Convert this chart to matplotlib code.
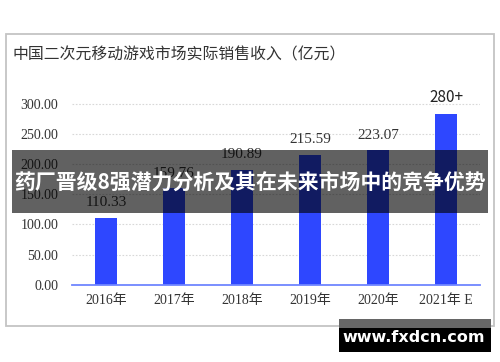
import numpy as np
import matplotlib
matplotlib.use('Agg')
import matplotlib.pyplot as plt
from matplotlib.patches import Rectangle

rcParams = matplotlib.rcParams
rcParams['font.family'] = ['Noto Sans CJK SC', 'DejaVu Sans']

#%% Data
years = ['2016年', '2017年', '2018年', '2019年', '2020年', '2021年 E']
revenue = [110.33, 159.76, 190.89, 215.59, 223.07, 284.0]
bar_labels = ['110.33', '159.76', '190.89', '215.59', '223.07', '280+']
yticks = [0, 50, 100, 150, 200, 250, 300]

W, H = 500, 362
def fx(px): return px / W
def fy(py): return 1 - py / H

fig = plt.figure(figsize=(W / 100, H / 100), dpi=100)

# outer frame of the chart picture
fig.patches.append(Rectangle((fx(6), fy(326)), fx(494) - fx(6), fy(34) - fy(326),
                             transform=fig.transFigure, fill=False,
                             edgecolor='#c4c4c4', lw=1.3, zorder=0))

fig.text(fx(12), fy(55), '中国二次元移动游戏市场实际销售收入（亿元）',
         fontsize=11.4, color='#333333', va='center', ha='left')

# axes: 0 at y=284.7px, 300 at y=104px
ppu = (284.7 - 104) / 300
top = 330
ax = fig.add_axes([fx(72), fy(284.7), fx(480) - fx(72), top * ppu / H])
x = np.arange(len(years))
ax.bar(x, revenue, width=0.31, color='#2e47ff', zorder=2)
ax.set_xlim(-0.5, len(years) - 0.5)
ax.set_ylim(0, top)

serif = ['Liberation Serif', 'Noto Sans CJK SC']
for i, (v, lab) in enumerate(zip(revenue, bar_labels)):
    if lab.endswith('+'):
        ax.annotate(lab, (i, v), xytext=(0, 11.5), textcoords='offset points',
                    ha='center', va='center', fontsize=11, color='#222222')
    else:
        ax.annotate(lab, (i, v), xytext=(0, 11), textcoords='offset points',
                    ha='center', va='center', fontsize=11, color='#333333',
                    family=serif)

ax.set_yticks(yticks)
ax.set_yticklabels(['%.2f' % t for t in yticks], family=serif, fontsize=10,
                   color='#333333')
ax.set_xticks(x)
ax.set_xticklabels(years, family=serif, fontsize=10, color='#333333')
ax.tick_params(axis='y', length=0, pad=10)
ax.tick_params(axis='x', length=0, pad=7)
ax.grid(axis='y', linestyle=(0, (1.5, 1.5)), color='#d8d8d8', lw=0.8, zorder=0)
for s in ['top', 'right', 'left']:
    ax.spines[s].set_visible(False)
ax.spines['bottom'].set_color('#6f86ff')
ax.spines['bottom'].set_linewidth(1.3)
ax.spines['bottom'].set_zorder(3)

# dark banner over the chart
fig.patches.append(Rectangle((fx(12), fy(213)), fx(488) - fx(12), fy(150) - fy(213),
                             transform=fig.transFigure, facecolor='black',
                             alpha=0.62, edgecolor='none', zorder=5))
fig.text(fx(250), fy(182), '药厂晋级8强潜力分析及其在未来市场中的竞争优势',
         fontsize=15, fontweight='bold', color='white', ha='center',
         va='center', zorder=6)

# watermark
fig.patches.append(Rectangle((fx(339), fy(328)), fx(491) - fx(339), fy(319) - fy(328),
                             transform=fig.transFigure, facecolor='#666666',
                             edgecolor='none', zorder=5))
fig.patches.append(Rectangle((fx(339), fy(352)), fx(491) - fx(339), fy(328) - fy(352),
                             transform=fig.transFigure, facecolor='black',
                             edgecolor='none', zorder=5))
fig.text(fx(414), fy(337), 'www.fxdcn.com', fontsize=11.5, fontweight='bold',
         family='DejaVu Sans', color='white', ha='center', va='center', zorder=6)

fig.savefig('out.png', dpi=100)
